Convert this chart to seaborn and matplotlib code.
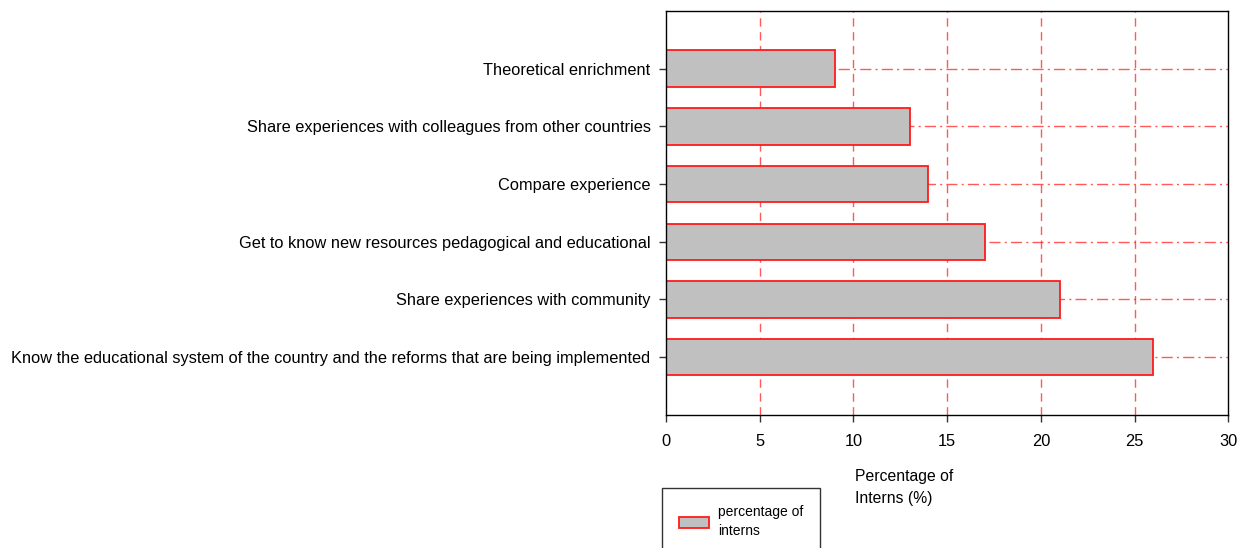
import matplotlib
matplotlib.use("Agg")
import matplotlib.pyplot as plt
import seaborn as sns
import pandas as pd

# Datos (de arriba hacia abajo)
categories = [
    "Theoretical enrichment",
    "Share experiences with colleagues from other countries",
    "Compare experience",
    "Get to know new resources pedagogical and educational",
    "Share experiences with community",
    "Know the educational system of the country and the reforms that are being implemented",
]
percentages = [9, 13, 14, 17, 21, 26]
x_ticks = [0, 5, 10, 15, 20, 25, 30]

df = pd.DataFrame({"category": categories, "pct": percentages})

sns.set_theme(style="white")
plt.rcParams["font.family"] = ["Liberation Sans", "DejaVu Sans"]

fig = plt.figure(figsize=(12.47, 5.48), dpi=100)
ax = fig.add_axes([0.534, 0.243, 0.451, 0.737])

# Rejilla roja (debajo de las barras)
for xv in x_ticks[1:-1]:
    ax.axvline(xv, color="#ff3030", linestyle=(0, (6, 4)), linewidth=1.0, alpha=0.8, zorder=0)
for i in range(len(categories)):
    ax.axhline(i, color="#ff3030", linestyle=(0, (8, 3, 1.5, 3)), linewidth=1.0, alpha=0.8, zorder=0)

sns.barplot(data=df, x="pct", y="category", orient="h", color="#c0c0c0",
            edgecolor="#ff1a1a", linewidth=1.3, width=0.63, saturation=1,
            ax=ax, zorder=2, label="percentage of\ninterns")

ax.set_xlim(0, 30)
ax.set_ylim(len(categories), -1)
ax.set_xticks(x_ticks)
ax.set_xlabel("")
ax.set_ylabel("")
ax.tick_params(axis="both", which="both", length=5, width=1, direction="out",
               left=True, bottom=True, labelsize=11.75, color="#333333",
               labelcolor="black", pad=6)
ax.tick_params(axis="x", pad=9)
for s in ax.spines.values():
    s.set_color("black")
    s.set_linewidth(1.0)
    s.set_visible(True)

fig.text(0.6857, 0.11, "Percentage of\nInterns (%)", fontsize=11.3, ha="left", va="center",
         linespacing=1.55, color="black")

leg = ax.legend(loc="upper left", bbox_to_anchor=(0.531, 0.1095),
                bbox_transform=fig.transFigure, frameon=True,
                fontsize=10, fancybox=False, edgecolor="black", handlelength=2.2,
                handleheight=0.85, borderpad=1.2, handletextpad=0.6, borderaxespad=0)
leg.get_frame().set_linewidth(1.0)
for t in leg.get_texts():
    t.set_linespacing(1.5)
    t.set_color("black")

fig.savefig("out.png", dpi=100)
